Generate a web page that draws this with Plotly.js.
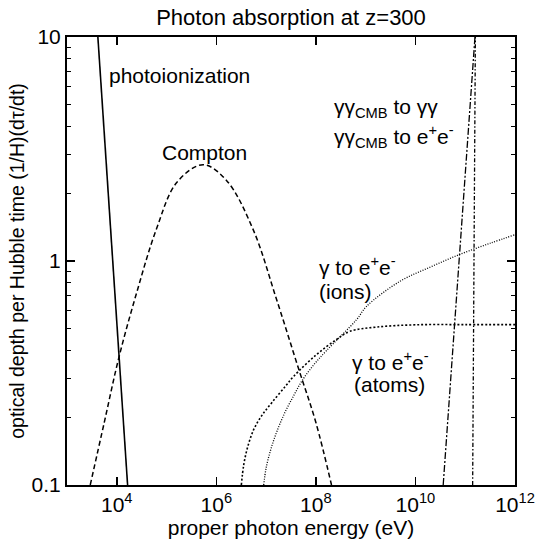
<!DOCTYPE html>
<html><head><meta charset="utf-8">
<script src="https://cdn.plot.ly/plotly-3.0.1.min.js"></script>
<style>html,body{margin:0;padding:0;background:#fff}#chart{width:536px;height:539px}</style>
</head><body><div id="chart"></div>
<script>
// ---- data (energy in eV, optical depth per Hubble time) ----
const photoionE   = [4.17e3, 1.65e4];
const photoionTau = [10, 0.1];

const comptonE   = [2.93e3, 5.6e3, 1.1e4, 2.5e4, 6.2e4, 1.6e5, 5.4e5, 1.6e6, 5.5e6, 1.6e7, 4.5e7, 1.0e8, 2.06e8];
const comptonTau = [0.1, 0.19, 0.37, 0.72, 1.38, 2.24, 2.69, 2.29, 1.38, 0.68, 0.33, 0.19, 0.1];

const atomsE   = [3.18e6, 3.55e6, 4.27e6, 5.64e6, 8.17e6, 1.30e7, 2.48e7, 3.55e7, 1.0e8, 2.59e8, 4.79e8, 1.66e9, 1.0e10, 1.0e11, 1.0e12];
const atomsTau = [0.1, 0.123, 0.148, 0.177, 0.204, 0.233, 0.277, 0.305, 0.38, 0.446, 0.485, 0.507, 0.519, 0.52, 0.52];

const ionsE   = [8.95e6, 1.0e7, 1.24e7, 1.64e7, 2.37e7, 3.6e7, 5.27e7, 9.06e7, 1.63e8, 6.55e8, 1.04e9, 4.86e9, 2.0e10, 7.76e10, 3.16e11, 1.0e12];
const ionsTau = [0.1, 0.119, 0.144, 0.173, 0.21, 0.251, 0.292, 0.344, 0.398, 0.547, 0.627, 0.811, 0.94, 1.07, 1.2, 1.31];

const ggScatE   = [3.61e10, 1.57e11];
const ggScatTau = [0.1, 10];

const ggPairE   = [1.41e11, 1.5e11, 1.6e11];
const ggPairTau = [0.1, 1.0, 10];

const xTickVals = [1e4, 1e6, 1e8, 1e10, 1e12];
const xTickText = ['10<sup>4</sup>', '10<sup>6</sup>', '10<sup>8</sup>', '10<sup>10</sup>', '10<sup>12</sup>'];
const yTickVals = [0.1, 1, 10];
const yTickText = ['0.1', '1', '10'];
const yMinorVals = [0.2, 0.3, 0.4, 0.5, 0.6, 0.7, 0.8, 0.9, 2, 3, 4, 5, 6, 7, 8, 9];

const FONT = 'Liberation Sans, Arial, Helvetica, sans-serif';

function line(x, y, dash, width, name, shape) {
  return {x: x, y: y, type: 'scatter', mode: 'lines', name: name,
          line: {color: '#000', width: width, dash: dash, shape: shape || 'linear', smoothing: 1},
          hoverinfo: 'skip'};
}

const traces = [
  line(photoionE, photoionTau, 'solid', 1.6, 'photoionization'),
  line(comptonE, comptonTau, '5px,3px', 1.5, 'Compton', 'spline'),
  line(atomsE, atomsTau, '2px,2px', 1.6, 'γ to e+e- (atoms)', 'spline'),
  line(ionsE, ionsTau, '1px,1.5px', 1.3, 'γ to e+e- (ions)', 'spline'),
  line(ggScatE, ggScatTau, '7px,2px,2px,2px', 1.3, 'γγCMB to γγ'),
  line(ggPairE, ggPairTau, '4px,2px,1.5px,2px', 1.3, 'γγCMB to e+e-', 'spline')
];

function ann(text, x, y) {
  return {text: text, x: x, y: y, xref: 'paper', yref: 'paper', xanchor: 'left', yanchor: 'middle',
          showarrow: false, font: {family: FONT, size: 21, color: '#000'}};
}

const layout = {
  width: 536, height: 539,
  margin: {l: 67, r: 21, t: 37, b: 54},
  paper_bgcolor: '#fff', plot_bgcolor: '#fff',
  showlegend: false,
  font: {family: FONT, size: 21, color: '#000'},
  title: {text: 'Photon absorption at z=300', font: {family: FONT, size: 22, color: '#000'},
          x: 0.5, xref: 'paper', y: 0.968, yref: 'container', yanchor: 'middle'},
  xaxis: {type: 'log', range: [3, 12], tickmode: 'array', tickvals: xTickVals, ticktext: xTickText,
          ticks: 'inside', ticklen: 8, tickwidth: 1.5, tickcolor: '#000',
          showline: true, linewidth: 2, linecolor: '#000', mirror: 'ticks',
          showgrid: false, zeroline: false,
          tickfont: {family: FONT, size: 21, color: '#000'},
          title: {text: 'proper photon energy (eV)', font: {family: FONT, size: 21, color: '#000'}, standoff: 2}},
  yaxis: {type: 'log', range: [-1, 1], tickmode: 'array', tickvals: yTickVals, ticktext: yTickText,
          ticks: 'inside', ticklen: 8, tickwidth: 1.5, tickcolor: '#000',
          minor: {tickmode: 'array', tickvals: yMinorVals, ticks: 'inside', ticklen: 4, tickwidth: 1.2, tickcolor: '#000', showgrid: false},
          showline: true, linewidth: 2, linecolor: '#000', mirror: 'ticks',
          showgrid: false, zeroline: false,
          tickfont: {family: FONT, size: 21, color: '#000'},
          title: {text: 'optical depth per Hubble time (1/H)(dτ/dt)', font: {family: FONT, size: 19.5, color: '#000'}, standoff: 2}},
  annotations: [
    ann('photoionization', 0.0893, 0.913),
    ann('Compton', 0.2076, 0.743),
    ann('γγ<sub>CMB</sub> to γγ', 0.591, 0.8415),
    ann('γγ<sub>CMB</sub> to e<sup>+</sup>e<sup>-</sup>', 0.591, 0.779),
    ann('γ to e<sup>+</sup>e<sup>-</sup>', 0.557, 0.489),
    ann('(ions)', 0.557, 0.433),
    ann('γ to e<sup>+</sup>e<sup>-</sup>', 0.632, 0.277),
    ann('(atoms)', 0.636, 0.225)
  ]
};

Plotly.newPlot('chart', traces, layout, {displayModeBar: false, staticPlot: true});
</script>
</body></html>
